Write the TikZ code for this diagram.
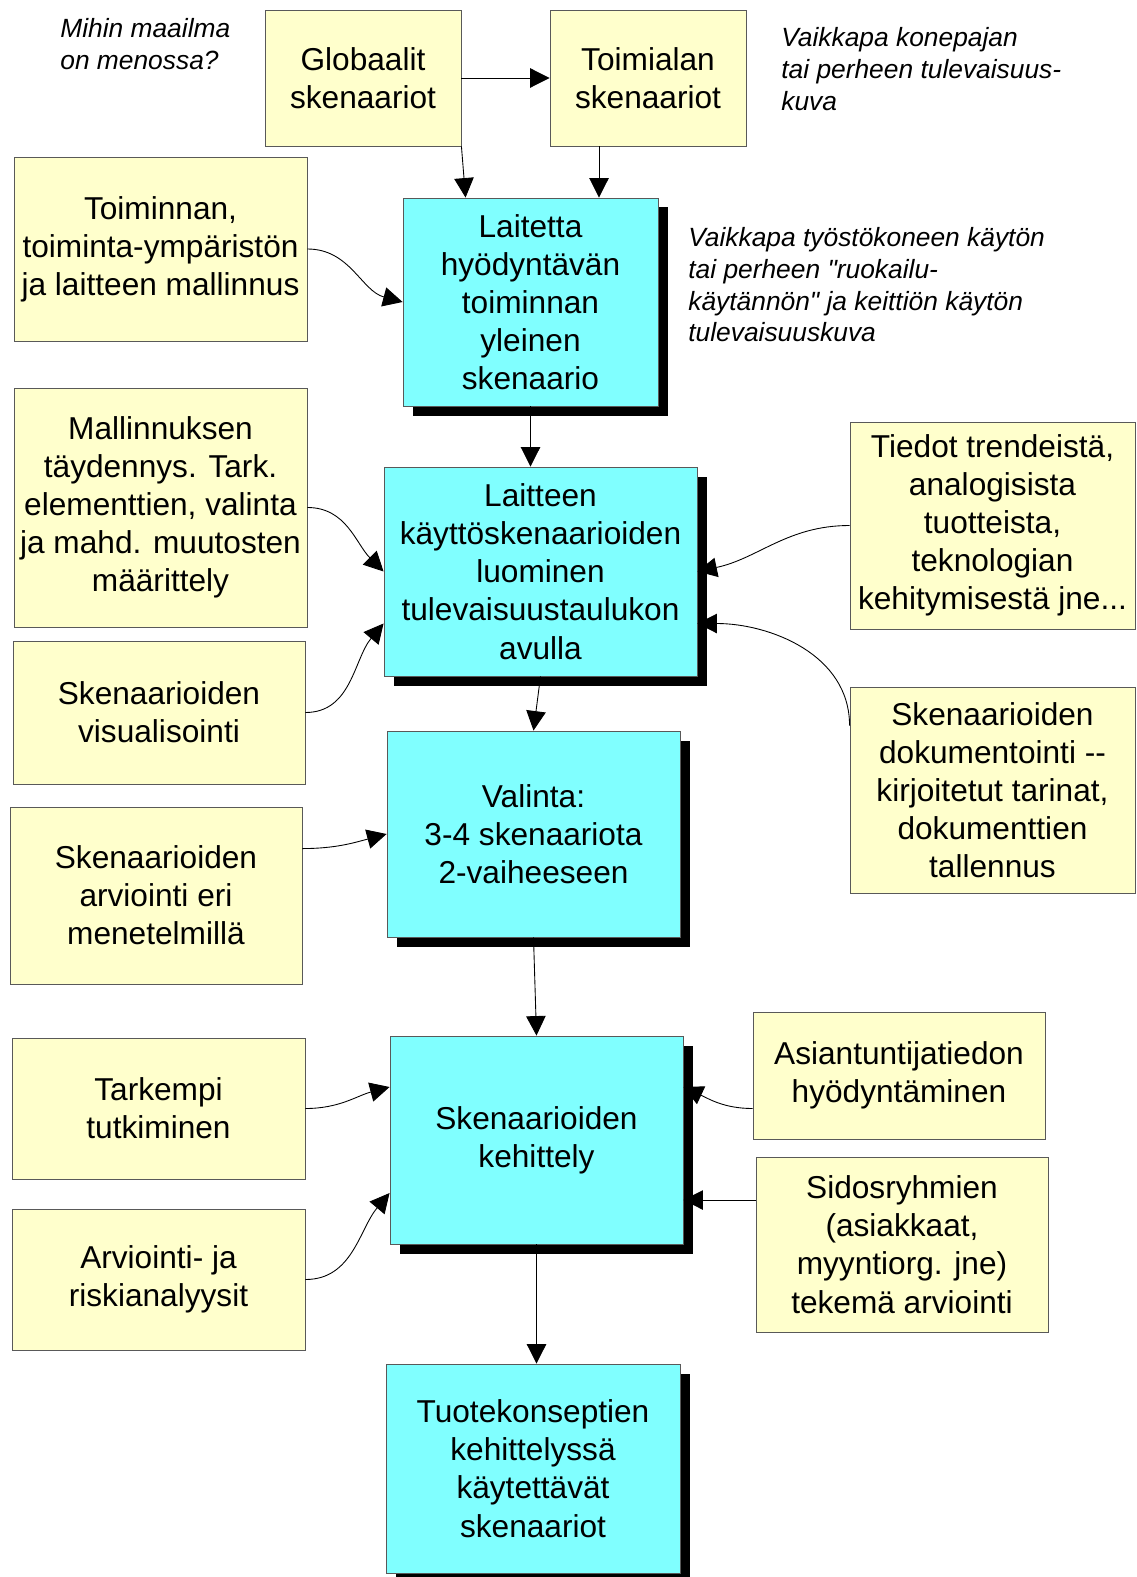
\documentclass[tikz,border=0pt]{standalone}
\usepackage{fontspec}
\setmainfont{Liberation Sans}[Ligatures=TeXOff]
\usetikzlibrary{arrows.meta,calc,shadows}
\definecolor{notepaper}{HTML}{FFFFCC}
\definecolor{skyfill}{HTML}{80FFFF}

\begin{document}
\begin{tikzpicture}[
		x=0.2mm, y=-0.2mm,
		every node/.style={inner sep=0pt, align=center, font=\fontsize{18}{21.7}\selectfont},
		ybox/.style={rectangle, draw=black!65, line width=0.5pt, fill=notepaper},
		cbox/.style={rectangle, draw=black!65, line width=0.5pt, fill=skyfill,
			drop shadow={shadow xshift=1.9mm, shadow yshift=-1.9mm, fill=black, opacity=1}},
		note/.style={anchor=west, align=left, font=\fontsize{15}{18}\selectfont\itshape},
		arr/.style={-{Triangle[length=3.9mm, width=3.9mm]}, line width=0.5pt}
	]
  \useasboundingbox (0,0) rectangle (1136,1577);
  % top row
  \node (mihin) [note] at (60, 44) {Mihin maailma\\on menossa?};
  \node (glob) [ybox, minimum width=39.2mm, minimum height=27.2mm] at (363, 78) {Globaalit\\skenaariot};
  \node (toimiala) [ybox, minimum width=39.2mm, minimum height=27.2mm] at (648, 78) {Toimialan\\skenaariot};
  \node (konepaja) [note] at (781, 69) {Vaikkapa konepajan\\tai perheen tulevaisuus-\\kuva};
  % left column
  \node (mallin) [ybox, minimum width=58.6mm, minimum height=36.8mm] at (160.5, 249) {Toiminnan,\\toiminta-ympäristön\\ja laitteen mallinnus};
  \node (taydennys) [ybox, minimum width=58.6mm, minimum height=47.8mm] at (160.5, 507.5) {Mallinnuksen\\täydennys. Tark.\\elementtien, valinta\\ja mahd. muutosten\\määrittely};
  \node (visual) [ybox, minimum width=58.4mm, minimum height=28.6mm] at (159, 712.5) {Skenaarioiden\\visualisointi};
  \node (arvio_eri) [ybox, minimum width=58.4mm, minimum height=35.4mm] at (156, 895.5) {Skenaarioiden\\arviointi eri\\menetelmillä};
  \node (tarkempi) [ybox, minimum width=58.6mm, minimum height=28.2mm] at (158.5, 1108.5) {Tarkempi\\tutkiminen};
  \node (riski) [ybox, minimum width=58.6mm, minimum height=28.2mm] at (158.5, 1279.5) {Arviointi- ja\\riskianalyysit};
  % main chain
  \node (lait_yl) [cbox, minimum width=51mm, minimum height=41.6mm] at (530.5, 302) {Laitetta\\hyödyntävän\\toiminnan\\yleinen\\skenaario};
  \node (kayttosk) [cbox, minimum width=62.6mm, minimum height=41.8mm] at (540.5, 571.5) {Laitteen\\käyttöskenaarioiden\\luominen\\tulevaisuustaulukon\\avulla};
  \node (valinta) [cbox, minimum width=58.6mm, minimum height=41.2mm] at (533.5, 834) {Valinta:\\3-4 skenaariota\\2-vaiheeseen};
  \node (kehitys) [cbox, minimum width=58.6mm, minimum height=41.6mm] at (536.5, 1140) {Skenaarioiden\\kehittely};
  \node (tuote) [cbox, minimum width=58.8mm, minimum height=41.8mm] at (533, 1468.5) {Tuotekonseptien\\kehittelyssä\\käytettävät\\skenaariot};
  % right column
  \node (tyosto) [note] at (688, 285) {Vaikkapa työstökoneen käytön\\tai perheen "ruokailu-\\käytännön" ja keittiön käytön\\tulevaisuuskuva};
  \node (trendit) [ybox, minimum width=57mm, minimum height=41.4mm] at (992.5, 525.5) {Tiedot trendeistä,\\analogisista\\tuotteista,\\teknologian\\kehitymisestä jne...};
  \node (dokum) [ybox, minimum width=57mm, minimum height=41.2mm] at (992.5, 790) {Skenaarioiden\\dokumentointi --\\kirjoitetut tarinat,\\dokumenttien\\tallennus};
  \node (asiant) [ybox, minimum width=58.4mm, minimum height=25.4mm] at (899, 1075.5) {Asiantuntijatiedon\\hyödyntäminen};
  \node (sidos) [ybox, minimum width=58.4mm, minimum height=35mm] at (902, 1244.5) {Sidosryhmien\\(asiakkaat,\\myyntiorg. jne)\\tekemä arviointi};
  % connectors
  \draw[arr] (glob.east) -- (toimiala.west);
  \draw[arr] (glob.south east) -- ($(lait_yl.north west)+(63,0)$);
  \coordinate (t_a) at ($(toimiala.south)+(-49,0)$);
  \draw[arr] (t_a) -- (t_a |- lait_yl.north);
  \draw[arr] (mallin.east) to[out=0, in=165] (lait_yl.west);
  \draw[arr] (lait_yl.south) -- (lait_yl.south |- kayttosk.north);
  \draw[arr] (taydennys.east) to[out=0, in=135] (kayttosk.west);
  \draw[arr] (visual.east) to[out=0, in=230] ($(kayttosk.west)+(0,52)$);
  \draw[arr] (trendit.west) to[out=180, in=12] (kayttosk.east);
  \draw[arr] ($(dokum.north west)+(0,39)$) to[out=90, in=0] ($(kayttosk.east)+(0,52)$);
  \draw[arr] (kayttosk.south) -- (valinta.north);
  \draw[arr] ($(arvio_eri.north east)+(0,42)$) to[out=0, in=195] (valinta.west);
  \draw[arr] (valinta.south) -- (kehitys.north);
  \draw[arr] (tarkempi.east) to[out=0, in=195] ($(kehitys.west)+(0,-53)$);
  \draw[arr] (riski.east) to[out=0, in=230] ($(kehitys.west)+(0,53)$);
  \draw[arr] ($(asiant.west)+(0,33)$) to[out=180, in=-25] ($(kehitys.east)+(0,-53)$);
  \coordinate (k_e) at ($(kehitys.east)+(0,60)$);
  \draw[arr] (sidos.west |- k_e) -- (k_e);
  \draw[arr] (kehitys.south) -- (kehitys.south |- tuote.north);
\end{tikzpicture}
\end{document}
